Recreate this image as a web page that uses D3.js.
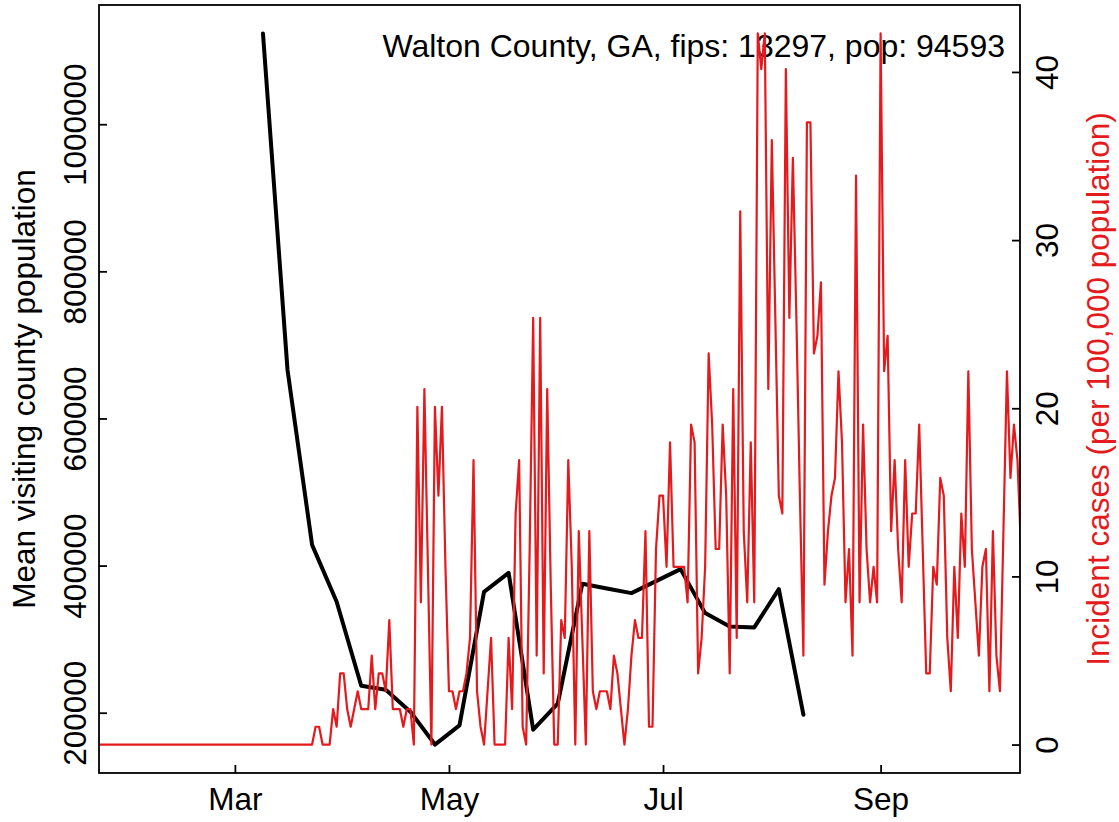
<!DOCTYPE html>
<html><head><meta charset="utf-8">
<script src="https://cdn.jsdelivr.net/npm/d3@7"></script>
<style>
body{margin:0;background:#fff}
svg{display:block;background:#fff}
text{font-family:"Liberation Sans",Arial,Helvetica,sans-serif}
</style>
</head><body>
<svg id="chart" width="1119" height="822"></svg>
<script>
// ---------------- data ----------------
const titleText = "Walton County, GA, fips: 13297, pop: 94593";
const leftLabel = "Mean visiting county population";
const rightLabel = "Incident cases (per 100,000 population)";

// weekly mean visiting county population (black line)
const mobilityDates = ["2020-03-09","2020-03-16","2020-03-23","2020-03-30","2020-04-06","2020-04-13",
  "2020-04-20","2020-04-27","2020-05-04","2020-05-11","2020-05-18","2020-05-25","2020-06-01",
  "2020-06-08","2020-06-15","2020-06-22","2020-06-29","2020-07-06","2020-07-13","2020-07-20",
  "2020-07-27","2020-08-03","2020-08-10"];
const mobilityValues = [1123400,665900,428200,350800,236700,231200,201400,156700,182800,364300,
  390100,176900,212200,375200,368800,362600,378900,395200,335400,317200,315900,368000,197300];

// daily incident cases per 100,000 (red line), starting at caseStartDate
const caseStartDate = "2020-01-22";
const incidence = [
  0,0,0,0,0,0,0,0,0,0, 0,0,0,0,0,0,0,0,0,0, 0,0,0,0,0,0,0,0,0,0,
  0,0,0,0,0,0,0,0,0,
  0,0,0,0,0,0,0,0,0,0, 0,0,0,0,0,0,0,0,0,0, 0,0,0,
  1.06,1.06,0,0,0,2.11,1.06,4.23,4.23,2.11,1.06,2.11,3.17,2.11,2.11,2.11,5.29,2.11,4.23,4.23,
  3.17,7.40,2.11,2.11,2.11,1.06,2.11,2.11,0,
  20.09,8.46,21.14,10.57,0,20.09,14.80,20.09,10.57,
  3.17,3.17,2.11,3.17,3.17,4.23,6.34,16.91,3.17,1.06,
  0,3.17,6.34,0,0,0,0,6.34,2.11,13.74,
  16.91,1.06,0,11.63,25.37,5.29,25.37,4.23,21.14,9.51,
  0,0,7.40,6.34,16.91,10.57,0,12.69,6.34,0,
  12.69,3.17,2.11,3.17,3.17,3.17,2.11,5.29,4.23,2.11,
  0,2.11,5.29,7.40,6.34,6.34,12.69,1.06,1.06,11.63,
  14.80,14.80,10.57,17.97,10.57,10.57,10.57,10.57,8.46,19.03,
  17.97,4.23,6.34,10.57,23.26,19.03,11.63,11.63,19.03,14.80,
  4.23,21.14,6.34,31.71,12.69,8.46,17.97,8.46,42.29,40.17,
  42.29,21.14,35.94,25.37,14.80,13.74,40.17,25.37,34.89,25.37,
  14.80,5.29,37.00,37.00,23.26,24.31,27.49,9.51,12.69,14.80,
  15.86,22.20,17.97,8.46,11.63,5.29,33.83,8.46,19.03,11.63,
  8.46,10.57,8.46,42.29,22.20,24.31,12.69,16.91,11.63,8.46,
  16.91,10.57,13.74,13.74,19.03,11.63,4.23,4.23,10.57,9.51,
  15.86,14.80,6.34,3.17,10.57,6.34,13.74,10.57,22.20,11.63,
  8.46,5.29,10.57,11.63,3.17,12.69,5.29,3.17,12.69,22.20,
  15.86,19.03,16.91,11.63
];

const xLimits = ["2020-02-01","2020-10-01"];
const xTickDates = ["2020-03-01","2020-05-01","2020-07-01","2020-09-01"];
const xTickLabels = ["Mar","May","Jul","Sep"];
const leftTicks = [200000,400000,600000,800000,1000000];
const rightTicks = [0,10,20,30,40];

// ---------------- layout ----------------
const L = 99, R = 1020, T = 5, B = 773;
const FS = 31.5;
const RED = "#e41a1c";

const parse = d3.utcParse("%Y-%m-%d");
const pad = e => { const r = e[1]-e[0]; return [e[0]-0.04*r, e[1]+0.04*r]; };

const xl = xLimits.map(parse);
const xspan = xl[1]-xl[0];
const x = d3.scaleUtc()
  .domain([new Date(+xl[0]-0.04*xspan), new Date(+xl[1]+0.04*xspan)])
  .range([L, R]);
const yL = d3.scaleLinear().domain(pad(d3.extent(mobilityValues))).range([B, T]);
const yR = d3.scaleLinear().domain(pad(d3.extent(incidence))).range([B, T]);

const svg = d3.select("#chart");
svg.append("rect").attr("width",1119).attr("height",822).attr("fill","#fff");

svg.append("clipPath").attr("id","plotclip")
  .append("rect").attr("x",L).attr("y",T).attr("width",R-L).attr("height",B-T);

const mob = mobilityDates.map((d,i)=>({date:parse(d), v:mobilityValues[i]}));
const start = parse(caseStartDate);
const cases = incidence.map((v,i)=>({date:d3.utcDay.offset(start,i), v}));

// black line
svg.append("path").datum(mob)
  .attr("clip-path","url(#plotclip)")
  .attr("fill","none").attr("stroke","#000").attr("stroke-width",4)
  .attr("stroke-linejoin","round").attr("stroke-linecap","round")
  .attr("d", d3.line().x(d=>x(d.date)).y(d=>yL(d.v)));

// title
svg.append("text").attr("x",1005).attr("y",57).attr("text-anchor","end")
  .attr("font-size",32).attr("fill","#000").text(titleText);

// red line
svg.append("path").datum(cases)
  .attr("clip-path","url(#plotclip)")
  .attr("fill","none").attr("stroke",RED).attr("stroke-width",2.2)
  .attr("stroke-linejoin","round").attr("stroke-linecap","round")
  .attr("d", d3.line().x(d=>x(d.date)).y(d=>yR(d.v)));

// box
svg.append("rect").attr("x",L).attr("y",T).attr("width",R-L).attr("height",B-T)
  .attr("fill","none").attr("stroke","#000").attr("stroke-width",1.8);

// bottom axis
const xa = svg.append("g").attr("transform",`translate(0,${B})`)
  .call(d3.axisBottom(x).tickValues(xTickDates.map(parse)).tickSize(-8)
    .tickFormat((d,i)=>xTickLabels[i]));
xa.select(".domain").remove();
xa.selectAll("line").attr("stroke","#000").attr("stroke-width",1.8);
xa.selectAll("text").attr("y",37).attr("dy",null).attr("font-size",FS)
  .attr("font-family",null).attr("fill","#000");

// left axis
const la = svg.append("g").attr("transform",`translate(${L},0)`)
  .call(d3.axisLeft(yL).tickValues(leftTicks).tickSize(-8).tickFormat(d3.format("d")));
la.select(".domain").remove();
la.selectAll("line").attr("stroke","#000").attr("stroke-width",1.8);
la.selectAll("text").attr("x",null).attr("dy",null).attr("text-anchor","middle")
  .attr("transform","translate(-13,0) rotate(-90)")
  .attr("font-size",FS).attr("font-family",null).attr("fill","#000");

// right axis
const ra = svg.append("g").attr("transform",`translate(${R},0)`)
  .call(d3.axisRight(yR).tickValues(rightTicks).tickSize(-8).tickFormat(d3.format("d")));
ra.select(".domain").remove();
ra.selectAll("line").attr("stroke","#000").attr("stroke-width",1.8);
ra.selectAll("text").attr("x",null).attr("dy",null).attr("text-anchor","middle")
  .attr("transform","translate(38,0) rotate(-90)")
  .attr("font-size",FS).attr("font-family",null).attr("fill","#000");

// axis titles
svg.append("text").attr("text-anchor","middle").attr("font-size",FS).attr("fill","#000")
  .attr("transform",`translate(35,${(T+B)/2}) rotate(-90)`).text(leftLabel);
svg.append("text").attr("text-anchor","middle").attr("font-size",FS).attr("fill",RED)
  .attr("transform",`translate(1109,${(T+B)/2}) rotate(-90)`).text(rightLabel);
</script>
</body></html>
